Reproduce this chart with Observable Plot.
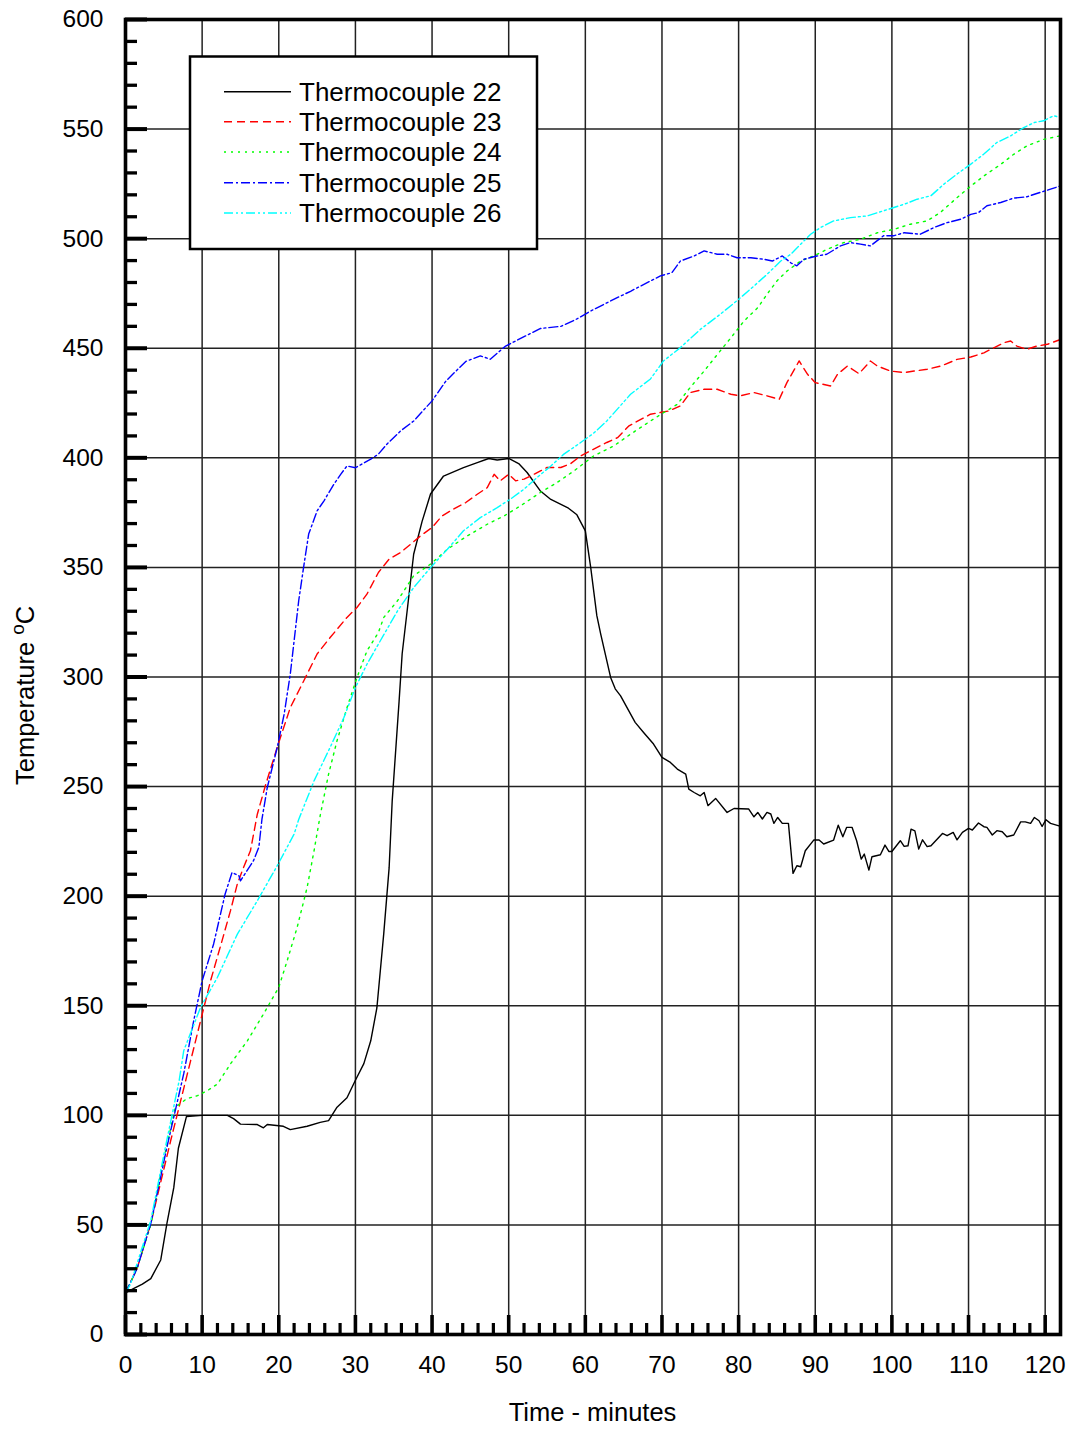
<!DOCTYPE html>
<html><head><meta charset="utf-8">
<script src="https://cdn.jsdelivr.net/npm/d3@7"></script>
<script src="https://cdn.jsdelivr.net/npm/@observablehq/plot@0.6"></script>
<style>
body{margin:0;background:#fff}
#chart{position:relative;width:1074px;height:1429px}
</style>
</head><body><div id="chart"></div>
<script>
// ---- tick values ----
const xTicks = d3.range(0, 121, 10);
const xMinor = d3.range(2, 122, 2).filter(d => d % 10 !== 0);
const yTicks = d3.range(0, 601, 50);
const yMinor = d3.range(10, 600, 10).filter(d => d % 50 !== 0);

// ---- series ----
const seriesNames = ["Thermocouple 22", "Thermocouple 23", "Thermocouple 24", "Thermocouple 25", "Thermocouple 26"];
const seriesColors = ["#000000", "#ff0000", "#00ff00", "#0000ff", "#00ffff"];
const seriesDash = [null, "8,5", "2,5", "9,3,2,3", "9,3,2,3,2,3"];

// [time (min), temperature (°C)]
const tc22 = [[0,19],[1.1,21],[2.2,23],[3.3,25.5],[4.6,34],[5.4,50.6],[6.3,67],[6.9,85],[7.96,99.5],[10,100],[13.3,100],[14.1,98.5],[15,96],[17.2,95.8],[18,94.3],[18.5,95.8],[20.6,95],[21.5,93.5],[23.7,95],[25.4,96.8],[26.5,97.6],[27.6,103.7],[28.9,108],[30,116],[31.1,123.6],[32,134],[32.8,149],[33.7,183],[34.4,213],[34.8,243.5],[35.7,289],[36.1,310.6],[36.8,331.7],[37.6,356],[38.7,371],[39.8,383.5],[41.5,391.7],[44.1,395.5],[45.9,397.8],[47.4,399.7],[48.5,399],[50,399.7],[51.3,397.4],[52.4,393.3],[54.1,385],[55.5,381],[57.8,377],[58.9,374],[60,366.7],[60.7,350],[61.5,328],[62,319.7],[63.3,299.8],[63.9,294.6],[64.6,291.4],[66.5,279.3],[67.6,274.7],[68.9,269.4],[70,263.3],[71.1,261],[72,258],[73.1,255.7],[73.5,248.8],[74.2,247.3],[75,245.8],[75.5,247.3],[76,241.3],[77,244.6],[78.5,238.2],[79.4,240],[81.3,239.8],[82,236.2],[82.5,238.2],[83.1,235.2],[83.7,238.2],[84.2,237.5],[84.6,233.2],[85.1,235.9],[85.7,233.2],[86.5,233.2],[87.1,210.4],[87.6,213.9],[88.1,213.4],[88.7,220.7],[89.8,225.6],[90.5,225.6],[91.1,223.8],[92.4,225.6],[93,232.4],[93.6,227.1],[94.1,231.4],[94.8,231.4],[95.4,225.3],[96,216.9],[96.4,219.2],[97,211.9],[97.4,218],[98.5,218.9],[99.1,223.3],[99.6,220.4],[100,220.4],[101.1,225.3],[101.6,222.7],[102.1,223],[102.5,230.6],[103,229.8],[103.5,221.5],[104,225.7],[104.6,222.6],[105.1,223],[106.6,228.6],[107.2,227.6],[108,229.1],[108.5,225.7],[109.2,229.1],[110,230.9],[110.5,230.2],[111.3,233.4],[112,231.7],[112.4,231.4],[113.1,227.9],[113.7,229.9],[114.4,229.4],[115,227.1],[115.9,227.9],[116.8,233.9],[117.4,233.9],[118.1,233.2],[118.6,235.9],[119.2,234.4],[119.6,231.8],[120.1,234.9],[120.7,233.2],[121.8,232.1]];

const tc23 = [[0,19],[1.5,30],[3.3,50.6],[5.9,88.5],[7.2,106.7],[10,146],[11.1,161.4],[12.6,179.7],[13.7,193.4],[14.6,205.7],[15.4,213.1],[16.3,220.7],[17.2,237.4],[18.3,251],[19.8,268],[21.5,286],[23.3,298.5],[25,310.5],[26.7,318],[28.9,327.2],[30.2,331.7],[31.5,337.8],[33,347.7],[34.4,353.8],[35.9,356.8],[37.2,360.6],[38.5,364.4],[40,368.2],[41.3,373.5],[42.8,376.6],[44.4,379.6],[45.9,383.4],[47.2,386.4],[48.1,392.5],[48.9,389.5],[50,392.5],[50.9,389.5],[52,390.3],[53.3,392.5],[55,395.6],[56.8,395.6],[58.1,397.4],[59.4,400.9],[61.1,404],[62.8,407],[64.2,409.2],[65.7,414.6],[68.5,419.9],[70.9,421.4],[72.4,423.7],[73.7,429.8],[75.5,431.3],[77.2,431.3],[79,429],[80.2,428.3],[82,429.8],[83.7,428.3],[85.3,426.7],[86.3,434.3],[87.9,444.2],[89,438.1],[90,434.3],[92,432.8],[92.9,438.1],[94.2,441.9],[95.7,438.4],[97.2,444.2],[98.1,441.9],[99.8,439.6],[101.6,438.9],[102.9,439.6],[104.6,440.4],[106.4,441.9],[108.5,444.9],[110.3,446],[112,447.9],[113.3,450.2],[114.6,452.5],[115.5,453.3],[116.3,451],[117.6,449.5],[118.9,451],[120.3,451.8],[122,454]];

const tc24 = [[0,19],[1.5,30],[3.3,50],[5,80],[6.5,103.7],[8,107.6],[9.4,109],[10.7,111.3],[12,114.3],[13.7,123.5],[15.9,134],[18,146.2],[20,158.4],[21.1,170.6],[22.4,185.8],[23.7,204],[24.6,220.7],[25.4,236.7],[26.5,255.7],[27.6,270.9],[28.9,286],[30.2,299.7],[31.5,311.9],[33,320.3],[33.7,327.2],[35.5,334.8],[37.6,346.2],[39.8,351.5],[42,358.3],[44.6,364.4],[47.2,369.7],[49.4,373.5],[51.5,378],[54.1,384.1],[56.3,388.7],[58.5,394],[61.1,400.9],[63.7,405.4],[65.9,410.8],[68.5,416.8],[70.2,420.6],[72,424.4],[73.3,430.5],[75.5,439.6],[77.6,448.8],[79,454.8],[80.7,462.4],[82.5,468.5],[83.7,474.6],[85,480.7],[86.3,485.2],[88.1,489.8],[89.8,492.1],[91.5,495.1],[93.7,498.2],[95.9,499.7],[98.1,502.7],[100.3,504.3],[102.4,506.6],[104.6,508.1],[106.3,511.9],[108.5,518.7],[110.3,524],[112,528.6],[114.2,533.9],[115.9,538.5],[117.6,542.3],[119.8,545.3],[121.8,546.8]];

const tc25 = [[0,19],[1.5,30],[3.3,50.6],[5.4,85.4],[7.6,119],[8.9,143.2],[10,161.4],[11.5,178.2],[13,201],[13.9,210.8],[14.8,209.3],[15,207],[15.7,210.8],[16.7,216.2],[17.4,222.3],[17.8,235],[18.5,249.6],[19.8,267.9],[20.7,283],[21.5,301.3],[22,316.5],[22.6,334.8],[23.3,351.5],[23.9,365.2],[25,375.8],[25.9,380.4],[27.2,388],[28.1,392.6],[28.9,396.3],[30,395.5],[32,399.4],[33,401.7],[34.1,406.2],[35.9,412.3],[37.6,416.8],[40,426],[41.8,435],[44.4,444],[46.3,446.5],[47.6,445],[49.6,451],[52.2,455.6],[54.1,459],[56.8,460],[58.7,463],[60.7,467],[63.3,471.6],[65.9,476],[68.5,480.7],[69.8,483],[71.3,484.5],[72.4,489.8],[74.2,492.1],[75.5,494.4],[77.2,492.9],[78.5,492.9],[79.8,491.3],[81.6,491.3],[83.3,490.6],[84.4,489.8],[85.7,492.1],[86.8,489],[87.6,487.6],[88.5,490.6],[90.2,492.1],[91.5,492.9],[93.3,496.7],[94.6,498.2],[95.9,497.5],[97.2,496.7],[98.9,501.3],[100.2,501.3],[101.6,502.7],[103.7,502],[105.5,505.1],[107.2,507.3],[109,508.9],[110.3,511.1],[111.3,511.9],[112.4,515],[114.2,516.5],[115.9,518.5],[117.6,519.1],[118.9,520.6],[120.7,522.6],[122,524.1]];

const tc26 = [[0,19],[0.65,23],[3.3,52],[5,82],[7,115.8],[7.6,129.5],[9.8,149.3],[12,163],[14.6,182.7],[17.2,197.9],[19.8,213.9],[22,228.3],[22.6,235],[24.6,252.6],[26.7,267.9],[28.5,281.5],[30,295.2],[31.5,305.8],[33,315],[35.5,330.2],[37.6,340.8],[39.8,349.9],[42,358.3],[44.1,366.7],[46.3,372.7],[48.5,377.3],[50.2,381.1],[52,385.7],[53.7,391],[55.5,396.3],[57.2,401.7],[59,406],[61,411],[62.8,416.8],[65.9,429],[68.5,436],[70.2,444.2],[72.4,450.3],[75,458.6],[77.6,465.5],[80,472.3],[82,478.4],[83.7,483.7],[85.5,489.8],[86.8,492.9],[88.1,497.5],[89.4,502],[90.7,505.1],[92.4,508.1],[94.6,509.6],[96.8,510.4],[98.9,512.7],[101.6,515.7],[103.3,518],[105.1,519.6],[106.8,524.9],[108.5,529.5],[110.3,534],[112,538.6],[113.7,543.9],[115.5,546.9],[117.2,550.7],[118.6,553],[119.8,553.8],[121.1,556.1],[122,555.3]];

const seriesData = [tc22, tc23, tc24, tc25, tc26];

// ---- layout ----
const W = 1074, H = 1429, mL = 125, mR = 14, mT = 19, mB = 95;
const pw = W - mL - mR, ph = H - mT - mB;
const FONT = "'Liberation Sans', Arial, sans-serif";

const lineMarks = seriesData.map((data, i) => Plot.line(data, {
  x: d => d[0], y: d => d[1],
  stroke: seriesColors[i], strokeWidth: 1.4,
  strokeDasharray: seriesDash[i] || undefined
}));

const plot = Plot.plot({
  width: W, height: H,
  marginLeft: mL, marginRight: mR, marginTop: mT, marginBottom: mB,
  style: {fontFamily: FONT, fontSize: "24.5px", color: "#000", background: "#fff", overflow: "visible"},
  x: {domain: [0, 122], label: null},
  y: {domain: [0, 600], label: null},
  marks: [
    Plot.ruleX(xTicks.filter(d => d > 0), {stroke: "#222", strokeWidth: 1.5}),
    Plot.ruleY(yTicks.filter(d => d > 0 && d < 600), {stroke: "#222", strokeWidth: 1.5}),
    ...lineMarks,
    Plot.ruleY(yTicks, {insetRight: pw - 22, stroke: "#000", strokeWidth: 4}),
    Plot.ruleY(yMinor, {insetRight: pw - 12, stroke: "#000", strokeWidth: 3.3}),
    Plot.ruleX(xTicks, {insetTop: ph - 19, stroke: "#000", strokeWidth: 3.6}),
    Plot.ruleX(xMinor, {insetTop: ph - 11, stroke: "#000", strokeWidth: 3.2}),
    Plot.frame({stroke: "#000", strokeWidth: 3.6}),
    Plot.axisX(xTicks, {tickSize: 0, tickPadding: 21, fontSize: 24.5, label: null}),
    Plot.axisY(yTicks, {tickSize: 0, tickPadding: 22, fontSize: 24.5, label: null})
  ]
});

document.getElementById("chart").appendChild(plot);

// ---- titles and legend ----
const svg = d3.select(plot);

svg.append("text")
  .attr("x", mL + pw / 2).attr("y", 1421)
  .attr("text-anchor", "middle")
  .style("font-family", FONT).style("font-size", "25.5px").attr("fill", "#000")
  .text("Time - minutes");

const yt = svg.append("text")
  .attr("transform", "translate(34,785) rotate(-90)")
  .attr("text-anchor", "start")
  .style("font-family", FONT).style("font-size", "25.5px").attr("fill", "#000");
yt.append("tspan").text("Temperature ");
yt.append("tspan").attr("dy", -10).style("font-size", "19px").text("o");
yt.append("tspan").attr("dy", 10).text("C");

const lg = svg.append("g");
lg.append("rect")
  .attr("x", 190).attr("y", 56.5).attr("width", 347).attr("height", 192.5)
  .attr("fill", "#fff").attr("stroke", "#000").attr("stroke-width", 2.5);
const rowY = [91.7, 121.7, 152, 182.7, 213];
seriesNames.forEach((name, i) => {
  lg.append("line")
    .attr("x1", 224).attr("x2", 291).attr("y1", rowY[i]).attr("y2", rowY[i])
    .attr("stroke", seriesColors[i]).attr("stroke-width", 1.4)
    .attr("stroke-dasharray", seriesDash[i]);
  lg.append("text")
    .attr("x", 299).attr("y", rowY[i] + 9)
    .attr("text-anchor", "start")
    .style("font-family", FONT).style("font-size", "26px").attr("fill", "#000")
    .text(name);
});
</script>
</body></html>
